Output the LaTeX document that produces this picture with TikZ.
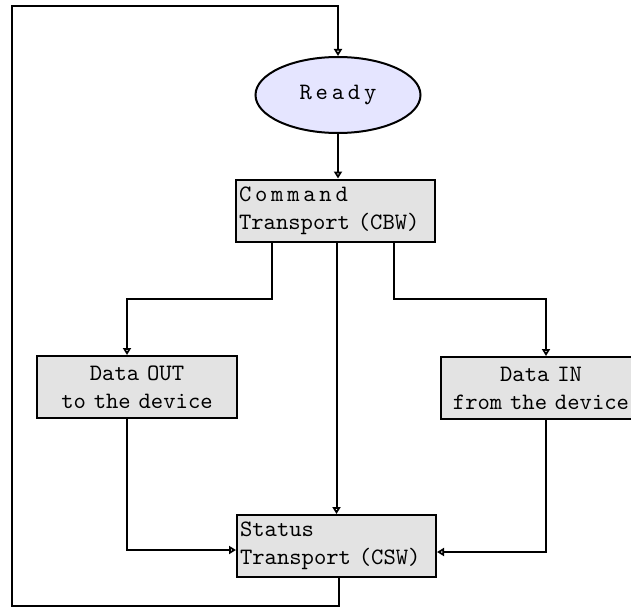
\documentclass[tikz,border=0pt]{standalone}
\usepackage{fontspec}
\setmonofont{lmmono10-regular.otf}
\newfontfamily\spacedmono[LetterSpace=16]{lmmono10-regular.otf}
\usetikzlibrary{shapes.geometric,arrows.meta}

\begin{document}
\begin{tikzpicture}[x=1pt,y=-1pt,
    font=\ttfamily\fontsize{23.5}{28}\selectfont,
    stage/.style={draw, line width=2pt, fill=black!11, minimum height=62pt, inner ysep=2pt},
    arr/.style={line width=2pt, -{Triangle[open,length=7pt,width=8pt]}}]
    \useasboundingbox (0,0) rectangle (631,607);
    \clip (0,0) rectangle (631,607);
    \node[ellipse, draw, line width=2pt, fill=blue!10!white, minimum width=165pt, minimum height=76pt] (ready) at (338,95) {\spacedmono Ready};
    \node[stage, text width=193pt, inner xsep=3pt, align=left] (cbw) at (335.5,210.5) {{\spacedmono Command}\\Transport (CBW)};
    \node[stage, text width=192pt, inner xsep=4pt, align=center] (dout) at (137,387) {Data OUT\\to the device};
    \node[stage, text width=190pt, inner xsep=5pt, align=center] (din) at (541,388) {Data IN\\from the device};
    \node[stage, text width=193pt, inner xsep=3pt, align=left] (csw) at (336.5,546) {Status\\Transport (CSW)};
    \coordinate (outsplit) at (272,299);
    \coordinate (outdrop) at (127,299);
    \coordinate (insplit) at (394,299);
    \coordinate (indrop) at (546,299);
    \coordinate (loopbl) at (12,606);
    \coordinate (looptl) at (12,6);
    \draw[arr] (ready) -- (ready |- cbw.north);
    \draw[arr] (cbw.south -| outsplit) -- (outsplit) -- (outdrop) -- (outdrop |- dout.north);
    \draw[arr] (csw.north |- cbw.south) -- (csw.north);
    \draw[arr] (cbw.south -| insplit) -- (insplit) -- (indrop) -- (indrop |- din.north);
    \draw[arr] (dout.south -| outdrop) |- ([yshift=-4pt]csw.west);
    \draw[arr] (din.south -| indrop) |- ([yshift=-6pt]csw.east);
    \draw[arr] ([xshift=2.5pt]csw.south) |- (loopbl) -- (looptl) -| (ready.north);
\end{tikzpicture}
\end{document}
